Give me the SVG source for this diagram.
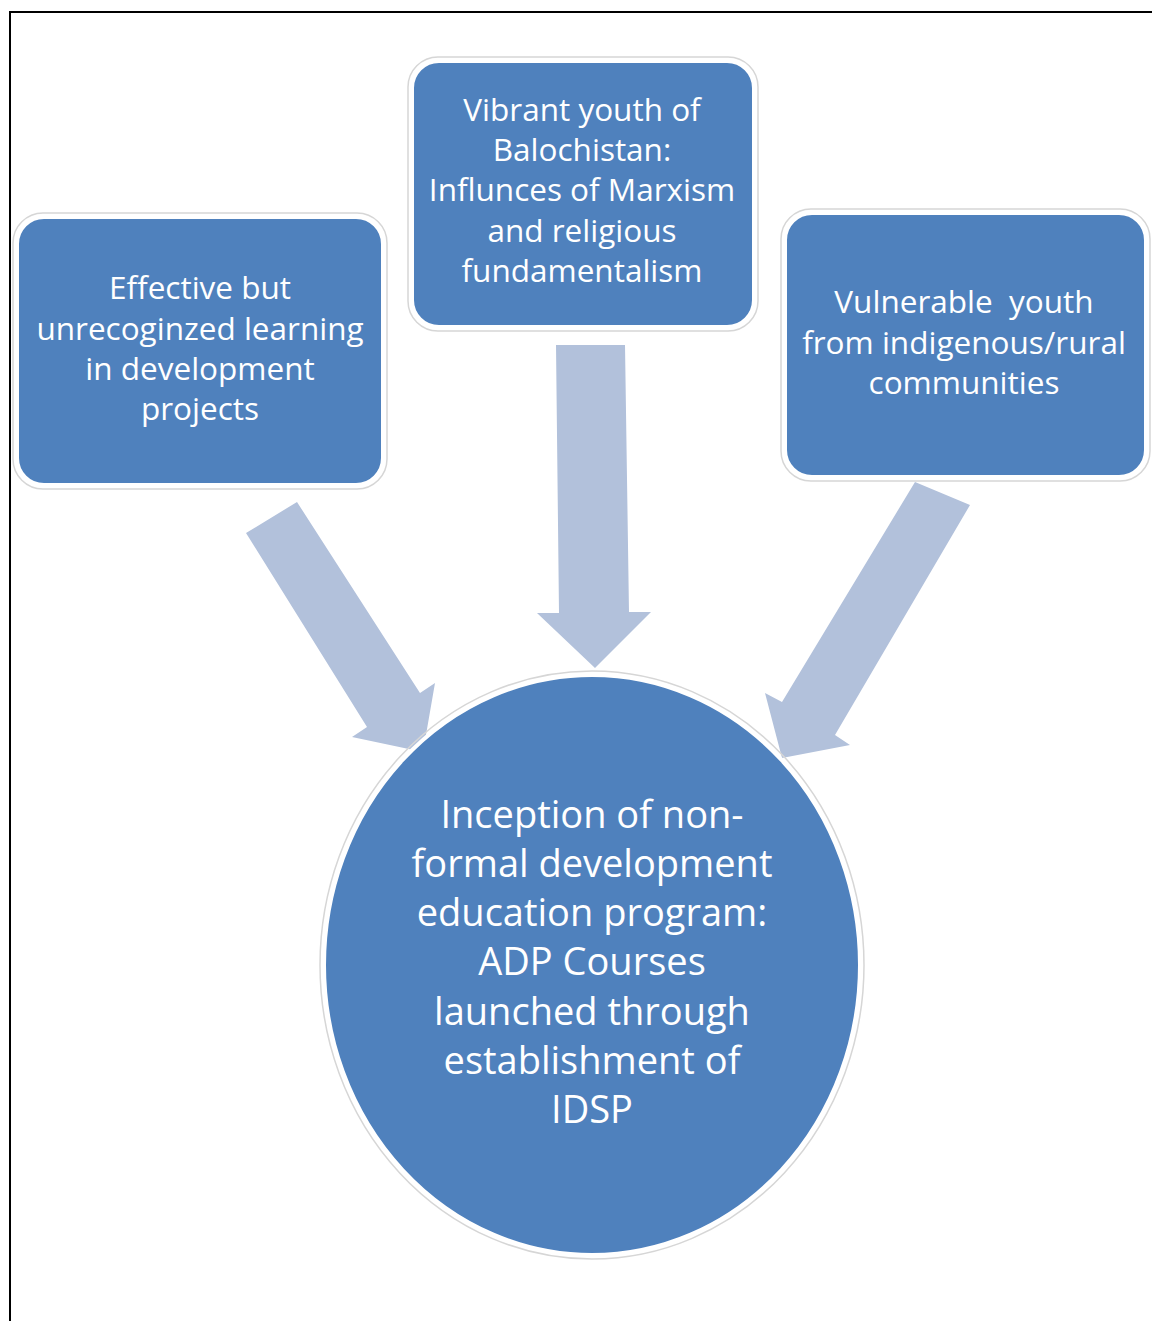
<svg xmlns="http://www.w3.org/2000/svg" width="1152" height="1321" viewBox="0 0 1152 1321">
<style>
.box{fill:#4F81BD;stroke:#FFFFFF;stroke-width:4}
.halo{fill:none;stroke:#D6D6D6;stroke-width:1.5}
.arrow{fill:#B2C1DB}
.t{font-family:"Open Sans","Liberation Sans",sans-serif;fill:#FFFFFF;text-anchor:middle}
.s{font-size:31.5px}
.b{font-size:38px}
</style>
<rect x="0" y="0" width="1152" height="1321" fill="#FFFFFF"/>
<rect x="10" y="12" width="1160" height="1330" fill="none" stroke="#000000" stroke-width="2"/>
<g id="connectors">
<polygon class="arrow" points="246,533 297,502 420,693 435,683 423,752 352,737 367,727"/>
<polygon class="arrow" points="556,345 625,345 629,612 651,612 595,668 537,613 559,613"/>
<polygon class="arrow" points="915,482 970,505 835,735 850,745 782,758 765,693 782,702"/>
</g>
<g id="node-left">
<rect class="halo" x="13" y="213" width="374" height="276" rx="30"/>
<rect class="box" x="17" y="217" width="366" height="268" rx="27"/>
<text class="t s" x="200" y="299">Effective but</text>
<text class="t s" x="200" y="340">unrecoginzed learning</text>
<text class="t s" x="200" y="380">in development</text>
<text class="t s" x="200" y="420">projects</text>
</g>
<g id="node-middle">
<rect class="halo" x="408" y="57" width="350" height="274" rx="30"/>
<rect class="box" x="412" y="61" width="342" height="266" rx="27"/>
<text class="t s" x="582" y="121">Vibrant youth of</text>
<text class="t s" x="582" y="161">Balochistan:</text>
<text class="t s" x="582" y="201">Influnces of Marxism</text>
<text class="t s" x="582" y="242">and religious</text>
<text class="t s" x="582" y="282">fundamentalism</text>
</g>
<g id="node-right">
<rect class="halo" x="781" y="209" width="369" height="272" rx="30"/>
<rect class="box" x="785" y="213" width="361" height="264" rx="27"/>
<text class="t s" x="964" y="313" xml:space="preserve">Vulnerable  youth</text>
<text class="t s" x="964" y="354">from indigenous/rural</text>
<text class="t s" x="964" y="394">communities</text>
</g>
<g id="node-center">
<ellipse class="halo" cx="592" cy="965" rx="272" ry="294"/>
<ellipse class="box" cx="592" cy="965" rx="268" ry="290"/>
<text class="t b" x="592" y="828">Inception of non-</text>
<text class="t b" x="592" y="877">formal development</text>
<text class="t b" x="592" y="926">education program:</text>
<text class="t b" x="592" y="975">ADP Courses</text>
<text class="t b" x="592" y="1025">launched through</text>
<text class="t b" x="592" y="1074">establishment of</text>
<text class="t b" x="592" y="1123">IDSP</text>
</g>
</svg>
